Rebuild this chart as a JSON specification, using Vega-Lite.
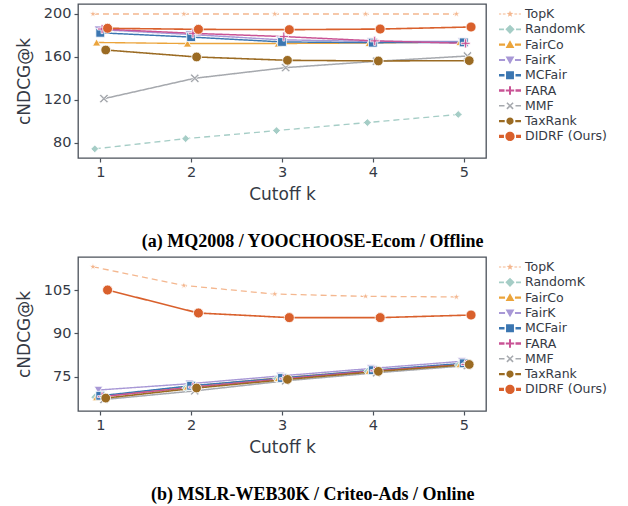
{
  "$schema": "https://vega.github.io/schema/vega-lite/v6.json",
  "padding": {"top": 3, "left": 14, "right": 5, "bottom": 5},
  "background": "white",
  "datasets": {
    "a": [
      {"k": 1, "method": "TopK", "value": 200}, {"k": 2, "method": "TopK", "value": 200}, {"k": 3, "method": "TopK", "value": 200}, {"k": 4, "method": "TopK", "value": 200}, {"k": 5, "method": "TopK", "value": 200},
      {"k": 1, "method": "RandomK", "value": 74.5}, {"k": 2, "method": "RandomK", "value": 84}, {"k": 3, "method": "RandomK", "value": 91.5}, {"k": 4, "method": "RandomK", "value": 99}, {"k": 5, "method": "RandomK", "value": 106.5},
      {"k": 1, "method": "FairCo", "value": 173.5}, {"k": 2, "method": "FairCo", "value": 172.5}, {"k": 3, "method": "FairCo", "value": 172.5}, {"k": 4, "method": "FairCo", "value": 173}, {"k": 5, "method": "FairCo", "value": 174},
      {"k": 1, "method": "FairK", "value": 185.5}, {"k": 2, "method": "FairK", "value": 181}, {"k": 3, "method": "FairK", "value": 176}, {"k": 4, "method": "FairK", "value": 174.5}, {"k": 5, "method": "FairK", "value": 174.5},
      {"k": 1, "method": "MCFair", "value": 182.5}, {"k": 2, "method": "MCFair", "value": 178.5}, {"k": 3, "method": "MCFair", "value": 174}, {"k": 4, "method": "MCFair", "value": 173.3}, {"k": 5, "method": "MCFair", "value": 173.6},
      {"k": 1, "method": "FARA", "value": 186}, {"k": 2, "method": "FARA", "value": 182}, {"k": 3, "method": "FARA", "value": 179}, {"k": 4, "method": "FARA", "value": 175}, {"k": 5, "method": "FARA", "value": 172.7},
      {"k": 1, "method": "MMF", "value": 121.2}, {"k": 2, "method": "MMF", "value": 140.2}, {"k": 3, "method": "MMF", "value": 150.1}, {"k": 4, "method": "MMF", "value": 156}, {"k": 5, "method": "MMF", "value": 160.9},
      {"k": 1, "method": "TaxRank", "value": 166.5}, {"k": 2, "method": "TaxRank", "value": 160}, {"k": 3, "method": "TaxRank", "value": 156.9}, {"k": 4, "method": "TaxRank", "value": 156.3}, {"k": 5, "method": "TaxRank", "value": 156.6},
      {"k": 1, "method": "DIDRF (Ours)", "value": 186.7}, {"k": 2, "method": "DIDRF (Ours)", "value": 185.7}, {"k": 3, "method": "DIDRF (Ours)", "value": 185.4}, {"k": 4, "method": "DIDRF (Ours)", "value": 186}, {"k": 5, "method": "DIDRF (Ours)", "value": 187.9}
    ],
    "b": [
      {"k": 1, "method": "TopK", "value": 113.2}, {"k": 2, "method": "TopK", "value": 106.7}, {"k": 3, "method": "TopK", "value": 103.7}, {"k": 4, "method": "TopK", "value": 102.9}, {"k": 5, "method": "TopK", "value": 102.7},
      {"k": 1, "method": "RandomK", "value": 67.8}, {"k": 2, "method": "RandomK", "value": 71}, {"k": 3, "method": "RandomK", "value": 74.2}, {"k": 4, "method": "RandomK", "value": 76.8}, {"k": 5, "method": "RandomK", "value": 79},
      {"k": 1, "method": "FairCo", "value": 67.8}, {"k": 2, "method": "FairCo", "value": 71.5}, {"k": 3, "method": "FairCo", "value": 74.5}, {"k": 4, "method": "FairCo", "value": 77}, {"k": 5, "method": "FairCo", "value": 79.3},
      {"k": 1, "method": "FairK", "value": 70.3}, {"k": 2, "method": "FairK", "value": 72.5}, {"k": 3, "method": "FairK", "value": 75.2}, {"k": 4, "method": "FairK", "value": 77.8}, {"k": 5, "method": "FairK", "value": 80.3},
      {"k": 1, "method": "MCFair", "value": 68.3}, {"k": 2, "method": "MCFair", "value": 71.8}, {"k": 3, "method": "MCFair", "value": 74.5}, {"k": 4, "method": "MCFair", "value": 77.2}, {"k": 5, "method": "MCFair", "value": 79.6},
      {"k": 1, "method": "FARA", "value": 68}, {"k": 2, "method": "FARA", "value": 71.3}, {"k": 3, "method": "FARA", "value": 74.2}, {"k": 4, "method": "FARA", "value": 77}, {"k": 5, "method": "FARA", "value": 79.2},
      {"k": 1, "method": "MMF", "value": 67}, {"k": 2, "method": "MMF", "value": 70}, {"k": 3, "method": "MMF", "value": 73.5}, {"k": 4, "method": "MMF", "value": 76.3}, {"k": 5, "method": "MMF", "value": 78.8},
      {"k": 1, "method": "TaxRank", "value": 67.5}, {"k": 2, "method": "TaxRank", "value": 71}, {"k": 3, "method": "TaxRank", "value": 74}, {"k": 4, "method": "TaxRank", "value": 76.8}, {"k": 5, "method": "TaxRank", "value": 79.2},
      {"k": 1, "method": "DIDRF (Ours)", "value": 105.1}, {"k": 2, "method": "DIDRF (Ours)", "value": 97.1}, {"k": 3, "method": "DIDRF (Ours)", "value": 95.5}, {"k": 4, "method": "DIDRF (Ours)", "value": 95.5}, {"k": 5, "method": "DIDRF (Ours)", "value": 96.4}
    ]
  },
  "vconcat": [
    {
      "width": 408, "height": 154,
      "data": {"name": "a"},
      "title": {"text": "(a) MQ2008 / YOOCHOOSE-Ecom / Offline", "orient": "bottom", "anchor": "middle", "frame": "bounds", "offset": 30, "font": "Liberation Serif", "fontSize": 18, "fontWeight": "bold", "color": "black"},
      "encoding": {
        "x": {"field": "k", "type": "ordinal", "scale": {"type": "point", "padding": 0.245}, "axis": {"labelAngle": 0, "title": "Cutoff k", "labelPadding": 3, "titlePadding": 8}},
        "y": {"field": "value", "type": "quantitative", "scale": {"domain": [66, 209.3], "nice": false, "zero": false}, "axis": {"values": [80, 120, 160, 200], "title": "cNDCG@k", "labelPadding": 3, "titlePadding": 10}},
        "xOffset": {"field": "method", "type": "nominal", "scale": {"type": "point", "domain": ["TopK", "RandomK", "FairCo", "FairK", "MCFair", "FARA", "MMF", "TaxRank", "DIDRF (Ours)"], "range": [-7.3, 7.3], "padding": 0}}
      },
      "layer": [
        {
          "mark": {"type": "line"},
          "encoding": {
            "color": {"field": "method", "type": "nominal", "scale": {"domain": ["TopK", "RandomK", "FairCo", "FairK", "MCFair", "FARA", "MMF", "TaxRank", "DIDRF (Ours)"], "range": ["#f4b78f", "#a5cdc6", "#eba43b", "#a898d6", "#3b76b1", "#c95395", "#a6a9ae", "#9b6b23", "#d9602c"]}, "legend": null},
            "strokeDash": {"field": "method", "type": "nominal", "scale": {"domain": ["TopK", "RandomK", "FairCo", "FairK", "MCFair", "FARA", "MMF", "TaxRank", "DIDRF (Ours)"], "range": [[6, 4], [6, 4], [1, 0], [1, 0], [1, 0], [1, 0], [1, 0], [1, 0], [1, 0]]}, "legend": null},
            "strokeWidth": {"field": "method", "type": "nominal", "scale": {"domain": ["TopK", "RandomK", "FairCo", "FairK", "MCFair", "FARA", "MMF", "TaxRank", "DIDRF (Ours)"], "range": [1.3, 1.6, 2.2, 2, 2.8, 2.6, 1.6, 2.5, 3.3]}, "legend": null}
          }
        },
        {
          "mark": {"type": "point", "filled": true, "opacity": 1, "stroke": "white", "strokeWidth": 0.8},
          "encoding": {
            "color": {"field": "method", "type": "nominal", "scale": {"domain": ["TopK", "RandomK", "FairCo", "FairK", "MCFair", "FARA", "MMF", "TaxRank", "DIDRF (Ours)"], "range": ["#f4b78f", "#a5cdc6", "#eba43b", "#a898d6", "#3b76b1", "#c95395", "#a6a9ae", "#9b6b23", "#d9602c"]}, "legend": null},
            "shape": {"field": "method", "type": "nominal", "scale": {"domain": ["TopK", "RandomK", "FairCo", "FairK", "MCFair", "FARA", "MMF", "TaxRank", "DIDRF (Ours)"], "range": ["M0,-1L0.235,-0.324L0.951,-0.309L0.38,0.124L0.588,0.809L0,0.4L-0.588,0.809L-0.38,0.124L-0.951,-0.309L-0.235,-0.324Z", "diamond", "triangle-up", "triangle-down", "square", "M-0.22,-1H0.22V-0.22H1V0.22H0.22V1H-0.22V0.22H-1V-0.22H-0.22Z", "M0,-0.3L0.65,-0.95L0.95,-0.65L0.3,0L0.95,0.65L0.65,0.95L0,0.3L-0.65,0.95L-0.95,0.65L-0.3,0L-0.95,-0.65L-0.65,-0.95Z", "circle", "circle"]}, "legend": null},
            "size": {"field": "method", "type": "nominal", "scale": {"domain": ["TopK", "RandomK", "FairCo", "FairK", "MCFair", "FARA", "MMF", "TaxRank", "DIDRF (Ours)"], "range": [55, 100, 80, 80, 85, 100, 85, 85, 150]}, "legend": null}
          }
        },
        {
          "mark": {"type": "point", "filled": true, "opacity": 0},
          "encoding": {
            "color": {"field": "method", "type": "nominal", "scale": {"domain": ["TopK", "RandomK", "FairCo", "FairK", "MCFair", "FARA", "MMF", "TaxRank", "DIDRF (Ours)"], "range": ["#f4b78f", "#a5cdc6", "#eba43b", "#a898d6", "#3b76b1", "#c95395", "#a6a9ae", "#9b6b23", "#d9602c"]}, "legend": {"title": null, "orient": "right", "offset": 10, "padding": 3, "symbolSize": 484, "clipHeight": 14, "rowPadding": 1.3, "labelFontSize": 12.5, "labelFont": "DejaVu Sans", "labelColor": "#353a45", "symbolStrokeWidth": 0, "symbolOpacity": 1, "labelOffset": 4}},
            "shape": {"field": "method", "type": "nominal", "scale": {"domain": ["TopK", "RandomK", "FairCo", "FairK", "MCFair", "FARA", "MMF", "TaxRank", "DIDRF (Ours)"], "range": [
              "M-1,-0.055H-0.8V0.055H-1ZM-0.65,-0.055H-0.4V0.055H-0.65ZM0.4,-0.055H0.65V0.055H0.4ZM0.8,-0.055H1V0.055H0.8ZM0,-0.32L0.076,-0.105L0.304,-0.099L0.124,0.04L0.188,0.259L0,0.13L-0.188,0.259L-0.124,0.04L-0.304,-0.099L-0.076,-0.105Z",
              "M-1,-0.08H-0.55V0.08H-1ZM0.55,-0.08H1V0.08H0.55ZM0,-0.42L0.42,0L0,0.42L-0.42,0Z",
              "M-1,-0.1H-0.45V0.1H-1ZM0.45,-0.1H1V0.1H0.45ZM0,-0.4L0.4,0.3L-0.4,0.3Z",
              "M-1,-0.09H-0.45V0.09H-1ZM0.45,-0.09H1V0.09H0.45ZM0,0.4L0.4,-0.3L-0.4,-0.3Z",
              "M-1,-0.12H-0.5V0.12H-1ZM0.5,-0.12H1V0.12H0.5ZM-0.36,-0.36H0.36V0.36H-0.36Z",
              "M-1,-0.11H-0.5V0.11H-1ZM0.5,-0.11H1V0.11H0.5ZM-0.09,-0.38H0.09V-0.09H0.38V0.09H0.09V0.38H-0.09V0.09H-0.38V-0.09H-0.09Z",
              "M-1,-0.07H-0.5V0.07H-1ZM0.5,-0.07H1V0.07H0.5ZM0,-0.1L0.23,-0.33L0.33,-0.23L0.1,0L0.33,0.23L0.23,0.33L0,0.1L-0.23,0.33L-0.33,0.23L-0.1,0L-0.33,-0.23L-0.23,-0.33Z",
              "M-1,-0.11H-0.48V0.11H-1ZM0.48,-0.11H1V0.11H0.48ZM-0.33,0A0.33,0.33 0 1,0 0.33,0A0.33,0.33 0 1,0 -0.33,0Z",
              "M-1,-0.14H-0.55V0.14H-1ZM0.55,-0.14H1V0.14H0.55ZM-0.42,0A0.42,0.42 0 1,0 0.42,0A0.42,0.42 0 1,0 -0.42,0Z"
            ]}, "legend": {"title": null, "orient": "right", "offset": 10, "padding": 3, "symbolSize": 484, "clipHeight": 14, "rowPadding": 1.3, "labelFontSize": 12.5, "labelFont": "DejaVu Sans", "labelColor": "#353a45", "symbolStrokeWidth": 0, "symbolOpacity": 1, "labelOffset": 4}}
          }
        }
      ],
      "resolve": {"scale": {"color": "independent", "shape": "independent"}}
    },
    {
      "width": 408, "height": 154,
      "data": {"name": "b"},
      "title": {"text": "(b) MSLR-WEB30K / Criteo-Ads / Online", "orient": "bottom", "anchor": "middle", "frame": "bounds", "offset": 30, "font": "Liberation Serif", "fontSize": 18, "fontWeight": "bold", "color": "black"},
      "encoding": {
        "x": {"field": "k", "type": "ordinal", "scale": {"type": "point", "padding": 0.245}, "axis": {"labelAngle": 0, "title": "Cutoff k", "labelPadding": 3, "titlePadding": 8}},
        "y": {"field": "value", "type": "quantitative", "scale": {"domain": [63, 116.6], "nice": false, "zero": false}, "axis": {"values": [75, 90, 105], "title": "cNDCG@k", "labelPadding": 3, "titlePadding": 10}},
        "xOffset": {"field": "method", "type": "nominal", "scale": {"type": "point", "domain": ["TopK", "RandomK", "FairCo", "FairK", "MCFair", "FARA", "MMF", "TaxRank", "DIDRF (Ours)"], "range": [-7.3, 7.3], "padding": 0}}
      },
      "layer": [
        {
          "mark": {"type": "line"},
          "encoding": {
            "color": {"field": "method", "type": "nominal", "scale": {"domain": ["TopK", "RandomK", "FairCo", "FairK", "MCFair", "FARA", "MMF", "TaxRank", "DIDRF (Ours)"], "range": ["#f4b78f", "#a5cdc6", "#eba43b", "#a898d6", "#3b76b1", "#c95395", "#a6a9ae", "#9b6b23", "#d9602c"]}, "legend": null},
            "strokeDash": {"field": "method", "type": "nominal", "scale": {"domain": ["TopK", "RandomK", "FairCo", "FairK", "MCFair", "FARA", "MMF", "TaxRank", "DIDRF (Ours)"], "range": [[6, 4], [6, 4], [1, 0], [1, 0], [1, 0], [1, 0], [1, 0], [1, 0], [1, 0]]}, "legend": null},
            "strokeWidth": {"field": "method", "type": "nominal", "scale": {"domain": ["TopK", "RandomK", "FairCo", "FairK", "MCFair", "FARA", "MMF", "TaxRank", "DIDRF (Ours)"], "range": [1.3, 1.6, 2.2, 2, 2.8, 2.6, 1.6, 2.5, 3.3]}, "legend": null}
          }
        },
        {
          "mark": {"type": "point", "filled": true, "opacity": 1, "stroke": "white", "strokeWidth": 0.8},
          "encoding": {
            "color": {"field": "method", "type": "nominal", "scale": {"domain": ["TopK", "RandomK", "FairCo", "FairK", "MCFair", "FARA", "MMF", "TaxRank", "DIDRF (Ours)"], "range": ["#f4b78f", "#a5cdc6", "#eba43b", "#a898d6", "#3b76b1", "#c95395", "#a6a9ae", "#9b6b23", "#d9602c"]}, "legend": null},
            "shape": {"field": "method", "type": "nominal", "scale": {"domain": ["TopK", "RandomK", "FairCo", "FairK", "MCFair", "FARA", "MMF", "TaxRank", "DIDRF (Ours)"], "range": ["M0,-1L0.235,-0.324L0.951,-0.309L0.38,0.124L0.588,0.809L0,0.4L-0.588,0.809L-0.38,0.124L-0.951,-0.309L-0.235,-0.324Z", "diamond", "triangle-up", "triangle-down", "square", "M-0.22,-1H0.22V-0.22H1V0.22H0.22V1H-0.22V0.22H-1V-0.22H-0.22Z", "M0,-0.3L0.65,-0.95L0.95,-0.65L0.3,0L0.95,0.65L0.65,0.95L0,0.3L-0.65,0.95L-0.95,0.65L-0.3,0L-0.95,-0.65L-0.65,-0.95Z", "circle", "circle"]}, "legend": null},
            "size": {"field": "method", "type": "nominal", "scale": {"domain": ["TopK", "RandomK", "FairCo", "FairK", "MCFair", "FARA", "MMF", "TaxRank", "DIDRF (Ours)"], "range": [55, 100, 80, 80, 85, 100, 85, 85, 150]}, "legend": null}
          }
        },
        {
          "mark": {"type": "point", "filled": true, "opacity": 0},
          "encoding": {
            "color": {"field": "method", "type": "nominal", "scale": {"domain": ["TopK", "RandomK", "FairCo", "FairK", "MCFair", "FARA", "MMF", "TaxRank", "DIDRF (Ours)"], "range": ["#f4b78f", "#a5cdc6", "#eba43b", "#a898d6", "#3b76b1", "#c95395", "#a6a9ae", "#9b6b23", "#d9602c"]}, "legend": {"title": null, "orient": "right", "offset": 10, "padding": 3, "symbolSize": 484, "clipHeight": 14, "rowPadding": 1.3, "labelFontSize": 12.5, "labelFont": "DejaVu Sans", "labelColor": "#353a45", "symbolStrokeWidth": 0, "symbolOpacity": 1, "labelOffset": 4}},
            "shape": {"field": "method", "type": "nominal", "scale": {"domain": ["TopK", "RandomK", "FairCo", "FairK", "MCFair", "FARA", "MMF", "TaxRank", "DIDRF (Ours)"], "range": [
              "M-1,-0.055H-0.8V0.055H-1ZM-0.65,-0.055H-0.4V0.055H-0.65ZM0.4,-0.055H0.65V0.055H0.4ZM0.8,-0.055H1V0.055H0.8ZM0,-0.32L0.076,-0.105L0.304,-0.099L0.124,0.04L0.188,0.259L0,0.13L-0.188,0.259L-0.124,0.04L-0.304,-0.099L-0.076,-0.105Z",
              "M-1,-0.08H-0.55V0.08H-1ZM0.55,-0.08H1V0.08H0.55ZM0,-0.42L0.42,0L0,0.42L-0.42,0Z",
              "M-1,-0.1H-0.45V0.1H-1ZM0.45,-0.1H1V0.1H0.45ZM0,-0.4L0.4,0.3L-0.4,0.3Z",
              "M-1,-0.09H-0.45V0.09H-1ZM0.45,-0.09H1V0.09H0.45ZM0,0.4L0.4,-0.3L-0.4,-0.3Z",
              "M-1,-0.12H-0.5V0.12H-1ZM0.5,-0.12H1V0.12H0.5ZM-0.36,-0.36H0.36V0.36H-0.36Z",
              "M-1,-0.11H-0.5V0.11H-1ZM0.5,-0.11H1V0.11H0.5ZM-0.09,-0.38H0.09V-0.09H0.38V0.09H0.09V0.38H-0.09V0.09H-0.38V-0.09H-0.09Z",
              "M-1,-0.07H-0.5V0.07H-1ZM0.5,-0.07H1V0.07H0.5ZM0,-0.1L0.23,-0.33L0.33,-0.23L0.1,0L0.33,0.23L0.23,0.33L0,0.1L-0.23,0.33L-0.33,0.23L-0.1,0L-0.33,-0.23L-0.23,-0.33Z",
              "M-1,-0.11H-0.48V0.11H-1ZM0.48,-0.11H1V0.11H0.48ZM-0.33,0A0.33,0.33 0 1,0 0.33,0A0.33,0.33 0 1,0 -0.33,0Z",
              "M-1,-0.14H-0.55V0.14H-1ZM0.55,-0.14H1V0.14H0.55ZM-0.42,0A0.42,0.42 0 1,0 0.42,0A0.42,0.42 0 1,0 -0.42,0Z"
            ]}, "legend": {"title": null, "orient": "right", "offset": 10, "padding": 3, "symbolSize": 484, "clipHeight": 14, "rowPadding": 1.3, "labelFontSize": 12.5, "labelFont": "DejaVu Sans", "labelColor": "#353a45", "symbolStrokeWidth": 0, "symbolOpacity": 1, "labelOffset": 4}}
          }
        }
      ],
      "resolve": {"scale": {"color": "independent", "shape": "independent"}}
    }
  ],
  "spacing": 4,
  "config": {
    "font": "DejaVu Sans",
    "view": {"stroke": "#4b515a", "strokeWidth": 1.3},
    "axis": {"domain": false, "grid": false, "tickColor": "#4b515a", "tickSize": 4, "tickWidth": 1.2, "labelFont": "DejaVu Sans", "labelFontSize": 14.5, "labelColor": "#353a45", "titleFont": "DejaVu Sans", "titleFontSize": 17, "titleFontWeight": "normal", "titleColor": "#353a45"}
  }
}
